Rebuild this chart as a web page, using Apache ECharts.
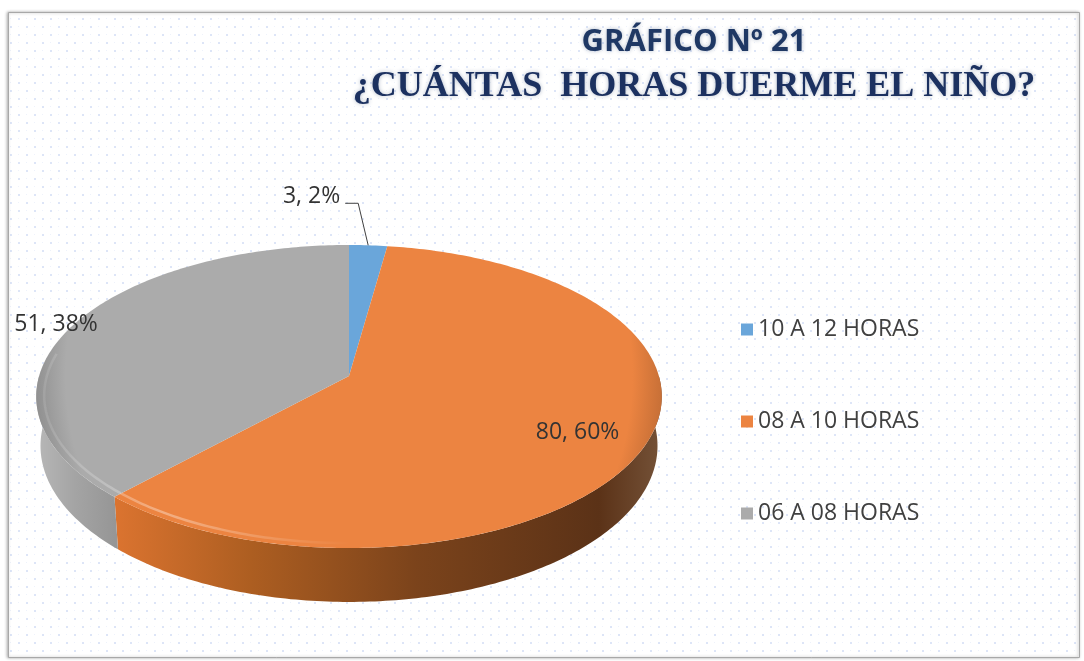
<!DOCTYPE html>
<html>
<head>
    <meta charset="utf-8">
    <title>Gráfico Nº 21</title>
    <script src="https://cdn.jsdelivr.net/npm/echarts@6/dist/echarts.min.js"></script>
    <style>
        html, body { margin: 0; padding: 0; background: #fff; }
        #main { width: 1084px; height: 661px; }
    </style>
</head>
<body>
<div id="main"></div>
<script>
    // datos
    var categories = ['10 A 12 HORAS', '08 A 10 HORAS', '06 A 08 HORAS'];
    var values = [3, 80, 51];
    var colors = ['#6aa6da', '#ec8441', '#ababab'];

    var total = values.reduce(function (a, b) { return a + b; }, 0);

    // "camara" del pastel 3d
    var ox = 349, oy = 376, f = 2005, D = 6.47;
    var sinP = 0.48, cosP = 0.876, h = 0.183;

    function project(theta, r, y) {
        var x = r * Math.sin(theta), z = r * Math.cos(theta);
        var depth = D - y * sinP + z * cosP;
        var yc = y * cosP + z * sinP;
        return [ox + f * x / depth, oy - f * yc / depth];
    }

    function darken(c, k) {
        var a = echarts.color.parse(c);
        return 'rgb(' + Math.round(a[0] * k) + ',' + Math.round(a[1] * k) + ',' + Math.round(a[2] * k) + ')';
    }

    // angulos de cada porcion
    var angles = [];
    var acc = 0;
    values.forEach(function (v) {
        var a0 = acc / total * Math.PI * 2;
        acc += v;
        angles.push([a0, acc / total * Math.PI * 2]);
    });

    function arc(a0, a1, y, r) {
        var pts = [];
        var n = Math.max(2, Math.ceil((a1 - a0) / 0.015));
        for (var k = 0; k <= n; k++) {
            pts.push(project(a0 + (a1 - a0) * k / n, r || 1, y));
        }
        return pts;
    }

    var sideFills = [
        null,
        new echarts.graphic.LinearGradient(112, 0, 665, 0, [
            {offset: 0, color: '#dc7430'}, {offset: 0.25, color: '#ad5e21'},
            {offset: 0.55, color: '#7b431b'}, {offset: 0.88, color: '#5b3217'},
            {offset: 1, color: '#76543a'}], true),
        new echarts.graphic.LinearGradient(35, 0, 115, 0, [
            {offset: 0, color: '#b8b8b8'}, {offset: 0.5, color: '#a4a4a4'},
            {offset: 1, color: '#969696'}], true)
    ];

    // donde va cada etiqueta (radio relativo), null = fuera con linea guia
    var labelRadius = [null, 0.78, 1.07];

    function labelText(i) {
        return values[i] + ', ' + Math.round(values[i] / total * 100) + '%';
    }

    function renderSide(params, api) {
        var i = params.dataIndex;
        var a0 = Math.max(angles[i][0], Math.PI / 2);
        var a1 = Math.min(angles[i][1], Math.PI * 1.5);
        if (a1 <= a0) return;
        var pts = arc(a0, a1, 0).concat(arc(a0, a1, -h).reverse());
        return {
            type: 'polygon',
            shape: {points: pts},
            style: {fill: sideFills[i], stroke: null}
        };
    }

    function makeTop(i) {
        return function (params, api) {
            var a0 = angles[i][0], a1 = angles[i][1];
            var pts = [[ox, oy]].concat(arc(a0, a1, 0));
            var fill = new echarts.graphic.RadialGradient(ox, oy, 322, [
                {offset: 0, color: colors[i]}, {offset: 0.88, color: colors[i]},
                {offset: 1, color: darken(colors[i], 0.8)}], true);
            var children = [{
                type: 'polygon',
                shape: {points: pts},
                style: {fill: fill, stroke: null}
            }];
            // brillo del bisel en el borde delantero izquierdo
            var b0 = Math.max(a0, Math.PI * 0.95), b1 = Math.min(a1, Math.PI * 1.55);
            if (b1 > b0) {
                children.push({
                    type: 'polyline',
                    shape: {points: arc(b0, b1, 0, 0.975)},
                    style: {
                        stroke: new echarts.graphic.LinearGradient(350, 0, 40, 0, [
                            {offset: 0, color: 'rgba(255,255,255,0)'},
                            {offset: 0.6, color: 'rgba(255,255,255,0.35)'},
                            {offset: 1, color: 'rgba(255,255,255,0.1)'}], true),
                        lineWidth: 2.5, fill: null
                    }
                });
            }
            var mid = (a0 + a1) / 2;
            var font = {fontSize: 23, fontFamily: '"Open Sans"', fill: '#333333'};
            if (labelRadius[i] == null) {
                var p = project(mid, 1, 0);
                var b = [p[0] - 10, p[1] - 42];
                var c = [b[0] - 13, b[1]];
                children.push({
                    type: 'polyline',
                    shape: {points: [p, b, c]},
                    style: {stroke: '#404040', lineWidth: 1, fill: null}
                });
                children.push({
                    type: 'text',
                    style: echarts.util.extend({
                        text: labelText(i), x: c[0] - 5, y: c[1] - 7,
                        align: 'right', verticalAlign: 'middle'
                    }, font)
                });
            } else {
                var q = project(mid, labelRadius[i], 0);
                children.push({
                    type: 'text',
                    style: echarts.util.extend({
                        text: labelText(i), x: q[0], y: q[1] + 4,
                        align: 'center', verticalAlign: 'middle'
                    }, font)
                });
            }
            return {type: 'group', children: children};
        };
    }

    // fondo punteado
    var pat = document.createElement('canvas');
    pat.width = 16; pat.height = 16;
    var ctx = pat.getContext('2d');
    ctx.fillStyle = '#ffffff';
    ctx.fillRect(0, 0, 16, 16);
    ctx.fillStyle = '#dde5f7';
    ctx.fillRect(2, 2, 2, 2);
    ctx.fillRect(10, 10, 2, 2);
    ctx.fillStyle = '#eef2fb';
    ctx.fillRect(10, 2, 1, 1);
    ctx.fillRect(2, 10, 1, 1);

    var series = [{
        type: 'custom',
        name: 'lados',
        coordinateSystem: 'none',
        silent: true,
        z: 2,
        data: values,
        renderItem: renderSide
    }];
    categories.forEach(function (c, i) {
        series.push({
            type: 'custom',
            name: c,
            coordinateSystem: 'none',
            silent: true,
            z: 3,
            itemStyle: {color: colors[i]},
            data: [values[i]],
            renderItem: makeTop(i)
        });
    });

    var myChart = echarts.init(document.getElementById('main'));
    var option = {
        backgroundColor: '#ffffff',
        animation: false,
        title: {
            text: 'GRÁFICO Nº 21',
            subtext: '¿CUÁNTAS  HORAS DUERME EL NIÑO?',
            left: 694,
            top: 27,
            textAlign: 'center',
            padding: 0,
            itemGap: 11,
            textStyle: {
                fontFamily: '"Open Sans"', fontWeight: 'bold', fontSize: 31, color: '#1f3864',
                textShadowColor: 'rgba(31,56,100,0.35)', textShadowBlur: 4
            },
            subtextStyle: {
                fontFamily: '"Liberation Serif"', fontWeight: 'bold', fontSize: 36, color: '#1c3160',
                textShadowColor: 'rgba(31,56,100,0.35)', textShadowBlur: 4
            }
        },
        legend: {
            data: categories,
            orient: 'vertical',
            left: 736,
            top: 313,
            itemGap: 69,
            itemWidth: 12,
            itemHeight: 12,
            icon: 'rect',
            selectedMode: false,
            textStyle: {fontFamily: '"Open Sans"', fontSize: 23, color: '#404040'}
        },
        graphic: {
            elements: [{
                type: 'rect',
                silent: true,
                shape: {x: 8.5, y: 12.5, width: 1071, height: 645},
                style: {
                    fill: {image: pat, repeat: 'repeat'},
                    stroke: '#a8a8a8', lineWidth: 1,
                    shadowBlur: 3, shadowColor: 'rgba(0,0,0,0.3)', shadowOffsetX: -1
                }
            }]
        },
        series: series
    };
    myChart.setOption(option);
</script>
</body>
</html>
